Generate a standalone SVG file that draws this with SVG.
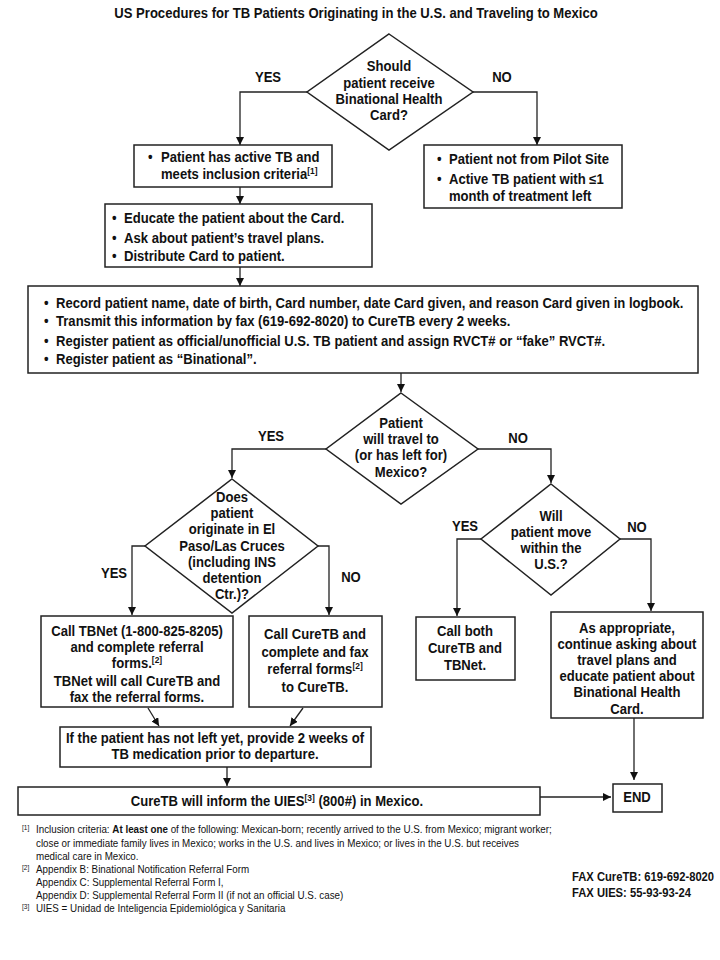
<svg xmlns="http://www.w3.org/2000/svg" width="720" height="960" viewBox="0 0 720 960">
<style>
text{font-family:"Liberation Sans Narrow","Liberation Sans",Arial,sans-serif;fill:#111;transform-box:fill-box;transform-origin:left center;transform:scaleX(0.935)}
.t{font-size:14px;font-weight:bold}
.c{text-anchor:middle;transform-origin:center}
.box{fill:#fff;stroke:#222;stroke-width:1.5}
.ln{fill:none;stroke:#222;stroke-width:1.3}
.fn{font-size:10.5px;font-weight:normal}
.fs{font-size:7px;font-weight:normal}
.fax{font-size:12px;font-weight:bold}
.sup{font-size:9px}
</style>
<defs>
<marker id="ah" viewBox="0 0 10 10" refX="10" refY="5" markerWidth="8" markerHeight="8" markerUnits="userSpaceOnUse" orient="auto">
<path d="M0,0 L10,5 L0,10 z" fill="#111"/>
</marker>
</defs>
<rect width="720" height="960" fill="#fff"/>
<text class="t c" x="356" y="18">US Procedures for TB Patients Originating in the U.S. and Traveling to Mexico</text>

<g id="connectors">
<polyline class="ln" points="307,92 240,92 240,145" marker-end="url(#ah)"/>
<polyline class="ln" points="473,92 537,92 537,145" marker-end="url(#ah)"/>
<line class="ln" x1="240" y1="187" x2="240" y2="204" marker-end="url(#ah)"/>
<line class="ln" x1="240" y1="267" x2="240" y2="286" marker-end="url(#ah)"/>
<line class="ln" x1="401" y1="373" x2="401" y2="392" marker-end="url(#ah)"/>
<polyline class="ln" points="326,449 232,449 232,478" marker-end="url(#ah)"/>
<polyline class="ln" points="478,449 551,449 551,483" marker-end="url(#ah)"/>
<polyline class="ln" points="145,546 132,546 132,615" marker-end="url(#ah)"/>
<polyline class="ln" points="318,546 329,546 329,615" marker-end="url(#ah)"/>
<polyline class="ln" points="481,539 457,539 457,616" marker-end="url(#ah)"/>
<polyline class="ln" points="620,539 651,539 651,611" marker-end="url(#ah)"/>
<line class="ln" x1="148" y1="708" x2="159" y2="726" marker-end="url(#ah)"/>
<line class="ln" x1="303" y1="708" x2="290" y2="726" marker-end="url(#ah)"/>
<line class="ln" x1="227" y1="767" x2="227" y2="786" marker-end="url(#ah)"/>
<line class="ln" x1="540" y1="797" x2="611" y2="797" marker-end="url(#ah)"/>
<line class="ln" x1="634" y1="718" x2="634" y2="780" marker-end="url(#ah)"/>
</g>
<g id="labels">
<text class="t c" x="268" y="82">YES</text>
<text class="t c" x="502" y="82">NO</text>
<text class="t c" x="271" y="441">YES</text>
<text class="t c" x="518" y="443">NO</text>
<text class="t c" x="114" y="578">YES</text>
<text class="t c" x="351" y="582">NO</text>
<text class="t c" x="465" y="531">YES</text>
<text class="t c" x="637" y="532">NO</text>
</g>

<g id="d1">
<polygon class="box" points="389,34 473,92 389,150 307,92"/>
<text class="t c" x="389" y="71">Should</text>
<text class="t c" x="389" y="88">patient receive</text>
<text class="t c" x="389" y="104">Binational Health</text>
<text class="t c" x="389" y="120">Card?</text>
</g>

<g id="boxA">
<rect class="box" x="134" y="145" width="198" height="42"/>
<text class="t" x="148" y="162">•</text>
<text class="t" x="161" y="162">Patient has active TB and</text>
<text class="t" x="161" y="179">meets inclusion criteria<tspan class="sup" dy="-5">[1]</tspan></text>
</g>

<g id="boxB">
<rect class="box" x="424" y="145" width="198" height="63"/>
<text class="t" x="437" y="164">•</text>
<text class="t" x="449" y="164">Patient not from Pilot Site</text>
<text class="t" x="437" y="184">•</text>
<text class="t" x="449" y="184">Active TB patient with ≤1</text>
<text class="t" x="449" y="201">month of treatment left</text>
</g>

<g id="boxC">
<rect class="box" x="105" y="204" width="267" height="63"/>
<text class="t" x="112" y="223">•</text>
<text class="t" x="124" y="223">Educate the patient about the Card.</text>
<text class="t" x="112" y="243">•</text>
<text class="t" x="124" y="243">Ask about patient’s travel plans.</text>
<text class="t" x="112" y="261">•</text>
<text class="t" x="124" y="261">Distribute Card to patient.</text>
</g>

<g id="boxD">
<rect class="box" x="28" y="286" width="670" height="87"/>
<text class="t" x="44" y="308">•</text>
<text class="t" x="56" y="308">Record patient name, date of birth, Card number, date Card given, and reason Card given in logbook.</text>
<text class="t" x="44" y="326">•</text>
<text class="t" x="56" y="326">Transmit this information by fax (619-692-8020) to CureTB every 2 weeks.</text>
<text class="t" x="44" y="346">•</text>
<text class="t" x="56" y="346">Register patient as official/unofficial U.S. TB patient and assign RVCT# or “fake” RVCT#.</text>
<text class="t" x="44" y="364">•</text>
<text class="t" x="56" y="364">Register patient as “Binational”.</text>
</g>

<g id="d2">
<polygon class="box" points="401,393 478,449 401,504 326,449"/>
<text class="t c" x="401" y="428">Patient</text>
<text class="t c" x="401" y="444">will travel to</text>
<text class="t c" x="401" y="460">(or has left for)</text>
<text class="t c" x="401" y="477">Mexico?</text>
</g>

<g id="d3">
<polygon class="box" points="232,479 318,546 232,613 145,546"/>
<text class="t c" x="232" y="502">Does</text>
<text class="t c" x="232" y="518">patient</text>
<text class="t c" x="232" y="534">originate in El</text>
<text class="t c" x="232" y="551">Paso/Las Cruces</text>
<text class="t c" x="232" y="567">(including INS</text>
<text class="t c" x="232" y="583">detention</text>
<text class="t c" x="232" y="599">Ctr.)?</text>
</g>

<g id="d4">
<polygon class="box" points="551,484 620,539 551,595 481,539"/>
<text class="t c" x="551" y="521">Will</text>
<text class="t c" x="551" y="537">patient move</text>
<text class="t c" x="551" y="553">within the</text>
<text class="t c" x="551" y="569">U.S.?</text>
</g>

<g id="boxE">
<rect class="box" x="41" y="616" width="192" height="91"/>
<text class="t c" x="137" y="636">Call TBNet (1-800-825-8205)</text>
<text class="t c" x="137" y="652">and complete referral</text>
<text class="t c" x="137" y="668">forms.<tspan class="sup" dy="-5">[2]</tspan></text>
<text class="t c" x="137" y="686">TBNet will call CureTB and</text>
<text class="t c" x="137" y="702">fax the referral forms.</text>
</g>

<g id="boxF">
<rect class="box" x="249" y="616" width="133" height="91"/>
<text class="t c" x="315" y="639">Call CureTB and</text>
<text class="t c" x="315" y="657">complete and fax</text>
<text class="t c" x="315" y="674">referral forms<tspan class="sup" dy="-5">[2]</tspan></text>
<text class="t c" x="315" y="692">to CureTB.</text>
</g>

<g id="boxG">
<rect class="box" x="416" y="617" width="99" height="63"/>
<text class="t c" x="465" y="636">Call both</text>
<text class="t c" x="465" y="653">CureTB and</text>
<text class="t c" x="465" y="670">TBNet.</text>
</g>

<g id="boxH">
<rect class="box" x="551" y="612" width="152" height="106"/>
<text class="t c" x="627" y="633">As appropriate,</text>
<text class="t c" x="627" y="649">continue asking about</text>
<text class="t c" x="627" y="665">travel plans and</text>
<text class="t c" x="627" y="681">educate patient about</text>
<text class="t c" x="627" y="697">Binational Health</text>
<text class="t c" x="627" y="714">Card.</text>
</g>

<g id="boxI">
<rect class="box" x="60" y="727" width="311" height="40"/>
<text class="t c" x="215" y="743">If the patient has not left yet, provide 2 weeks of</text>
<text class="t c" x="215" y="759">TB medication prior to departure.</text>
</g>

<g id="boxJ">
<rect class="box" x="18" y="787" width="522" height="28"/>
<text class="t c" x="277" y="806">CureTB will inform the UIES<tspan class="sup" dy="-5">[3]</tspan><tspan dy="5"> (800#) in Mexico.</tspan></text>
</g>

<g id="end">
<rect class="box" x="613" y="784" width="49" height="28"/>
<text class="t c" x="637" y="802">END</text>
</g>

<g id="footnotes">
<text class="fs" x="22" y="830">[1]</text>
<text class="fn" x="36" y="833">Inclusion criteria: <tspan font-weight="bold">At least one</tspan> of the following: Mexican-born; recently arrived to the U.S. from Mexico; migrant worker;</text>
<text class="fn" x="36" y="847">close or immediate family lives in Mexico;  works in the U.S. and lives in Mexico; or lives in the U.S. but receives</text>
<text class="fn" x="36" y="860">medical care in Mexico.</text>
<text class="fs" x="22" y="870">[2]</text>
<text class="fn" x="36" y="873">Appendix B:  Binational Notification Referral Form</text>
<text class="fn" x="36" y="886">Appendix C:  Supplemental Referral Form I,</text>
<text class="fn" x="36" y="899">Appendix D:  Supplemental Referral Form II (if not an official U.S. case)</text>
<text class="fs" x="22" y="909">[3]</text>
<text class="fn" x="36" y="912">UIES = Unidad de Inteligencia Epidemiológica y Sanitaria</text>
<text class="fax" x="572" y="881">FAX CureTB:  619-692-8020</text>
<text class="fax" x="572" y="897">FAX UIES:  55-93-93-24</text>
</g>
</svg>
